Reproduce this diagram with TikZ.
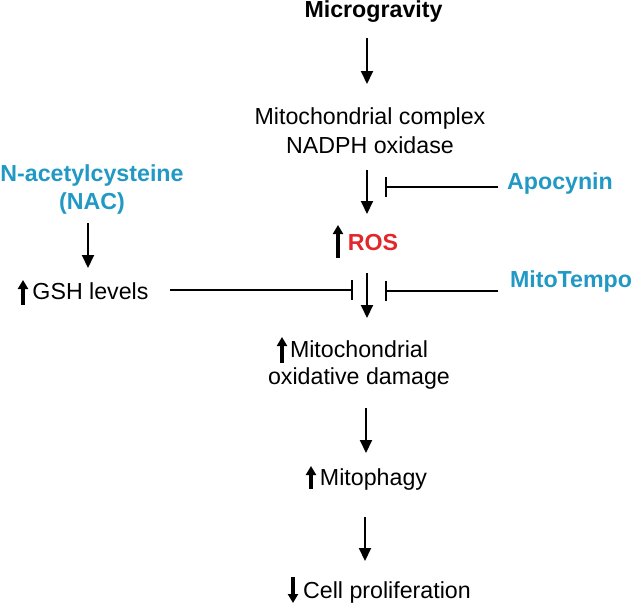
\documentclass[tikz,border=0pt]{standalone}
\usepackage{fontspec}
\setmainfont{Liberation Sans}
\usetikzlibrary{arrows.meta}
\definecolor{drugblue}{RGB}{33,153,196}
\definecolor{rosred}{RGB}{226,38,42}
\begin{document}
\begin{tikzpicture}[x=0.5pt,y=-0.5pt,
  txt/.style={inner sep=0pt,font=\fontsize{11.6}{14}\selectfont,anchor=base,align=center},
  drug/.style={txt,font=\fontsize{11.6}{14}\selectfont\bfseries,text=drugblue},
  arr/.style={line width=1pt,-{Triangle[width=6pt,length=6.5pt]}},
  inh/.style={line width=0.8pt,-{Bar[width=10pt,line width=1pt]}},
  updown/.style={line width=1.8pt,-{Triangle[width=5pt,length=4.5pt]}}]
\useasboundingbox (0,0) rectangle (632,605);
% texts (multi-line nodes: base = last line baseline)
\node[txt,font=\fontsize{11.6}{14}\selectfont\bfseries] (micro) at (373.5,18) {Microgravity};
\node[txt] (cplx) at (370,153) {Mitochondrial complex\\[0.5pt]NADPH oxidase};
\node[drug] (nac) at (92,209) {N-acetylcysteine\\[0pt](NAC)};
\node[drug] (apo) at (560,189) {Apocynin};
\node[txt,font=\fontsize{11.6}{14}\selectfont\bfseries,text=rosred] (ros) at (373,250) {ROS};
\node[txt] (gsh) at (90.5,299) {GSH levels};
\node[drug] (mito) at (571,287) {MitoTempo};
\node[txt] (dmg) at (359,384) {Mitochondrial\\[-0.5pt]oxidative damage};
\node[txt] (mph) at (373.5,485) {Mitophagy};
\node[txt] (cell) at (387,598) {Cell proliferation};
% arrow end points
\coordinate (a1s) at (367,38);  \coordinate (a1e) at (367,84);
\coordinate (a2s) at (367,170); \coordinate (a2e) at (367,214);
\coordinate (a3s) at (367,273); \coordinate (a3e) at (367,318);
\coordinate (a4s) at (366,408); \coordinate (a4e) at (366,453);
\coordinate (a5s) at (365,517); \coordinate (a5e) at (365,561);
\coordinate (a6s) at (88,223);  \coordinate (a6e) at (88,268);
\draw[arr] (a1s) -- (a1e);
\draw[arr] (a2s) -- (a2e);
\draw[arr] (a3s) -- (a3e);
\draw[arr] (a4s) -- (a4e);
\draw[arr] (a5s) -- (a5e);
\draw[arr] (a6s) -- (a6e);
% inhibitions
\coordinate (apoS) at (498,187); \coordinate (apoE) at (385,187);
\coordinate (gshS) at (170,290); \coordinate (gshE) at (353,290);
\coordinate (mtS) at (498,291);  \coordinate (mtE) at (385,291);
\draw[inh] (apoS) -- (apoE);
\draw[inh] (gshS) -- (gshE);
\draw[inh] (mtS) -- (mtE);
% small up/down arrows
\draw[updown] (338,258) -- (338,225);
\draw[updown] (23,305) -- (23,280);
\draw[updown] (282,363) -- (282,337);
\draw[updown] (311,489) -- (311,466);
\draw[updown] (293,577) -- (293,603);
\end{tikzpicture}
\end{document}
